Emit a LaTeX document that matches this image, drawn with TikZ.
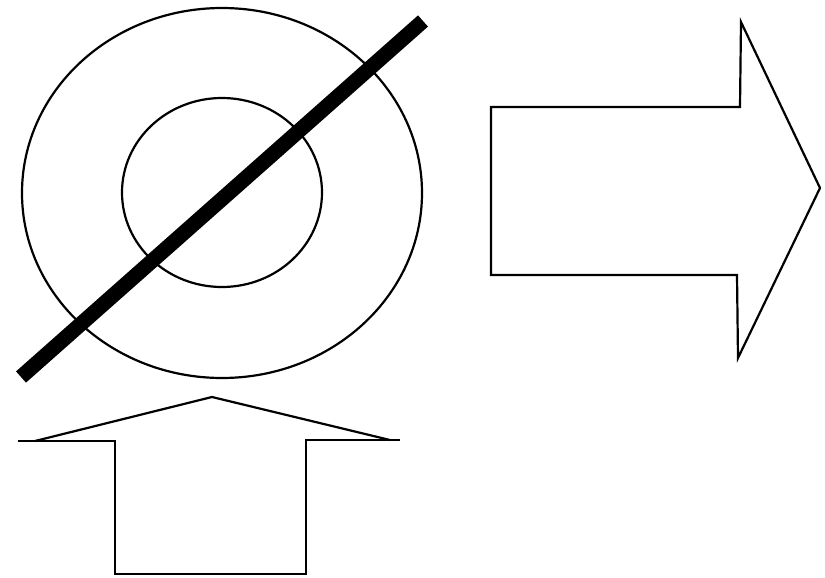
\documentclass[tikz,border=0pt]{standalone}
\begin{document}
\begin{tikzpicture}[x=1pt,y=-1pt,line join=miter,
  outline/.style={draw=black,line width=2.2pt},
  bar/.style={draw=black,line width=15pt,line cap=butt}]
\useasboundingbox[fill=white] (0,0) rectangle (825,578);
% rings
\draw[outline] (222,193) ellipse [x radius=200,y radius=185];
\draw[outline] (222,192.5) ellipse [x radius=100,y radius=94.5];
% slash bar
\draw[bar] (21,377) -- (423,21);
% right arrow
\draw[outline] (491,107) -- (740,107) -- (741,22) -- (820,188) -- (738,358) -- (737,275) -- (491,275) -- cycle;
% up arrow
\draw[outline] (18,441) -- (115,441) -- (115,574) -- (306,574) -- (306,440) -- (400,440);
\draw[outline] (35,441) -- (212,397) -- (390,440);
\end{tikzpicture}
\end{document}
